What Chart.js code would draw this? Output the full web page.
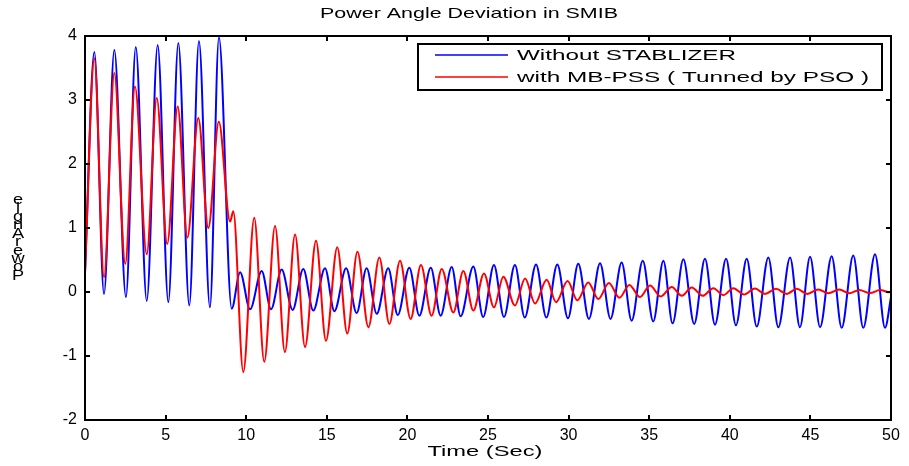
<!DOCTYPE html>
<html>
<head>
<meta charset="utf-8">
<script src="https://cdn.jsdelivr.net/npm/chart.js@4.4.1/dist/chart.umd.min.js"></script>
<style>
  body { margin: 0; background: #fff; }
  #wrap { width: 909px; height: 466px; position: relative; }
</style>
</head>
<body>
<div id="wrap"><canvas id="powerChart"></canvas></div>
<script>
// peaks and troughs, time in seconds
const blueT = [0, 0.58, 1.18, 1.82, 2.54, 3.15, 3.83, 4.51, 5.17, 5.79,
  6.47, 7.07, 7.75, 8.31, 9.1, 9.62, 10.24, 10.96, 11.54, 12.2,
  12.88, 13.54, 14.16, 14.89, 15.47, 16.2, 16.85, 17.47, 18.1, 18.81,
  19.4, 20.12, 20.74, 21.45, 22.06, 22.75, 23.3, 24.09, 24.7, 25.37,
  25.99, 26.67, 27.28, 27.98, 28.62, 29.3, 29.96, 30.6, 31.26, 31.95,
  32.6, 33.29, 33.91, 34.6, 35.25, 35.88, 36.45, 37.12, 37.79, 38.46,
  39.08, 39.77, 40.38, 41.05, 41.67, 42.39, 43.01, 43.74, 44.35, 44.98,
  45.6, 46.32, 46.94, 47.66, 48.28, 49.01, 49.63, 50];
const blueV = [0.3, 3.75, -0.03, 3.78, -0.08, 3.83, -0.14, 3.86, -0.16, 3.89,
  -0.21, 3.92, -0.24, 3.98, -0.26, 0.31, -0.27, 0.33, -0.27, 0.35,
  -0.28, 0.36, -0.29, 0.37, -0.30, 0.37, -0.33, 0.37, -0.34, 0.37,
  -0.36, 0.38, -0.37, 0.38, -0.37, 0.39, -0.38, 0.40, -0.39, 0.42,
  -0.39, 0.42, -0.40, 0.43, -0.40, 0.43, -0.41, 0.44, -0.42, 0.45,
  -0.42, 0.46, -0.45, 0.49, -0.46, 0.49, -0.49, 0.51, -0.50, 0.52,
  -0.51, 0.52, -0.52, 0.52, -0.54, 0.54, -0.55, 0.54, -0.55, 0.55,
  -0.55, 0.56, -0.56, 0.57, -0.56, 0.59, -0.56, -0.08];

const redT = [0, 0.58, 1.18, 1.82, 2.5, 3.1, 3.83, 4.45, 5.1, 5.75,
  6.35, 7.03, 7.65, 8.3, 9.0, 9.2, 9.82, 10.5, 11.12, 11.79,
  12.4, 13.03, 13.65, 14.33, 14.95, 15.65, 16.27, 16.9, 17.58, 18.26,
  18.88, 19.54, 20.2, 20.84, 21.5, 22.13, 22.85, 23.47, 24.09, 24.75,
  25.37, 25.95, 26.67, 27.3, 27.92, 28.64, 29.22, 29.94, 30.54, 31.22,
  31.84, 32.5, 33.15, 33.77, 34.43, 35.05, 35.71, 36.4, 37.02, 37.64,
  38.32, 38.98, 39.6, 40.22, 40.88, 41.56, 42.18, 42.87, 43.53, 44.15,
  44.81, 45.49, 46.11, 46.79, 47.41, 48.03, 48.7, 49.32, 49.94, 50];
const redV = [0.3, 3.65, 0.23, 3.42, 0.44, 3.21, 0.59, 3.03, 0.75, 2.90,
  0.85, 2.72, 1.0, 2.66, 1.1, 1.26, -1.25, 1.16, -1.09, 1.03,
  -0.94, 0.90, -0.86, 0.80, -0.76, 0.70, -0.65, 0.63, -0.55, 0.54,
  -0.50, 0.49, -0.42, 0.42, -0.37, 0.36, -0.32, 0.33, -0.29, 0.29,
  -0.24, 0.24, -0.21, 0.21, -0.18, 0.19, -0.16, 0.17, -0.13, 0.15,
  -0.11, 0.14, -0.09, 0.11, -0.08, 0.10, -0.07, 0.08, -0.06, 0.07,
  -0.06, 0.06, -0.05, 0.06, -0.04, 0.055, -0.03, 0.05, -0.03, 0.05,
  -0.03, 0.04, -0.02, 0.04, -0.02, 0.03, -0.016, 0.03, -0.005, 0.0];

const seriesNames = ['Without STABLIZER', 'with MB-PSS ( Tunned by PSO )'];
const titleText = 'Power Angle Deviation in SMIB';
const xLabel = 'Time (Sec)';
const yLabel = 'Power Angle';

const FONT = 'Arial, "Liberation Sans", sans-serif';
Chart.defaults.color = '#000';
Chart.defaults.font.family = FONT;

function toPoints(ts, vs) {
    return ts.map((t, i) => ({ x: t, y: vs[i] }));
}

// the reference text is drawn wide, so stretch it to a given width
function wideText(ctx, text, x, y, w, align) {
    const m = ctx.measureText(text).width;
    ctx.save();
    ctx.translate(x, y);
    ctx.scale(w / m, 1);
    ctx.textAlign = align || 'left';
    ctx.fillText(text, 0, 0);
    ctx.restore();
}

// box, inward ticks on all four sides, legend, titles
const framePlugin = {
    id: 'frame',
    afterDatasetsDraw(chart) {
        const { ctx, chartArea: a, scales: { x, y } } = chart;
        ctx.save();
        ctx.strokeStyle = '#000';
        ctx.lineWidth = 2;
        ctx.strokeRect(a.left, a.top, a.right - a.left, a.bottom - a.top);

        ctx.beginPath();
        x.ticks.forEach(t => {
            const px = Math.round(x.getPixelForValue(t.value));
            ctx.moveTo(px, a.bottom); ctx.lineTo(px, a.bottom - 5);
            ctx.moveTo(px, a.top); ctx.lineTo(px, a.top + 5);
        });
        y.ticks.forEach(t => {
            const py = Math.round(y.getPixelForValue(t.value));
            ctx.moveTo(a.left, py); ctx.lineTo(a.left + 5, py);
            ctx.moveTo(a.right, py); ctx.lineTo(a.right - 5, py);
        });
        ctx.stroke();

        // legend
        const lx = a.left + 333, ly = a.top + 8, lw = 464, lh = 46;
        ctx.fillStyle = '#fff';
        ctx.fillRect(lx, ly, lw, lh);
        ctx.strokeRect(lx, ly, lw, lh);
        const colors = ['#0000ff', '#ff0000'];
        const widths = [219, 352];
        ctx.font = '15px ' + FONT;
        ctx.textBaseline = 'middle';
        ctx.fillStyle = '#000';
        seriesNames.forEach((name, i) => {
            const ry = ly + 11 + i * 22;
            ctx.strokeStyle = colors[i];
            ctx.lineWidth = 1.5;
            ctx.beginPath();
            ctx.moveTo(lx + 17, ry); ctx.lineTo(lx + 90, ry);
            ctx.stroke();
            wideText(ctx, name, lx + 99, ry + 1, widths[i]);
        });
        ctx.restore();
    },
    afterDraw(chart) {
        const { ctx, chartArea: a } = chart;
        const cx = (a.left + a.right) / 2;
        ctx.save();
        ctx.fillStyle = '#000';
        ctx.textBaseline = 'middle';
        ctx.font = '15px ' + FONT;
        wideText(ctx, titleText, cx - 19, 14, 298, 'center');
        wideText(ctx, xLabel, cx - 3, 452, 115, 'center');

        // y label: upright letters stacked bottom to top, like the reference
        ctx.font = '14px ' + FONT;
        const chars = yLabel.replace(' ', '').split('');
        chars.forEach((c, i) => {
            wideText(ctx, c, 18, 276 - i * 8.4, ctx.measureText(c).width * 1.3, 'center');
        });
        ctx.restore();
    }
};

new Chart(document.getElementById('powerChart'), {
    type: 'line',
    data: {
        datasets: [
            {
                label: seriesNames[0],
                data: toPoints(blueT, blueV),
                borderColor: '#0000ff',
                borderWidth: 2,
                pointRadius: 0,
                cubicInterpolationMode: 'monotone',
                order: 1
            },
            {
                label: seriesNames[1],
                data: toPoints(redT, redV),
                borderColor: '#ff0000',
                borderWidth: 2,
                pointRadius: 0,
                cubicInterpolationMode: 'monotone',
                order: 0
            }
        ]
    },
    options: {
        responsive: true,
        maintainAspectRatio: false,
        animation: false,
        layout: { padding: { left: 0, right: 18, top: 36, bottom: 0 } },
        plugins: {
            legend: { display: false },
            tooltip: { enabled: false },
            title: { display: false }
        },
        scales: {
            x: {
                type: 'linear',
                min: 0,
                max: 50,
                ticks: { stepSize: 5, padding: 6, font: { size: 16 } },
                grid: { display: false, drawTicks: false },
                border: { display: false },
                afterFit: s => { s.height = 46; }
            },
            y: {
                min: -2,
                max: 4,
                ticks: { stepSize: 1, padding: 8, font: { size: 16 } },
                grid: { display: false, drawTicks: false },
                border: { display: false },
                afterFit: s => { s.width = 85; }
            }
        }
    },
    plugins: [framePlugin]
});
</script>
</body>
</html>
